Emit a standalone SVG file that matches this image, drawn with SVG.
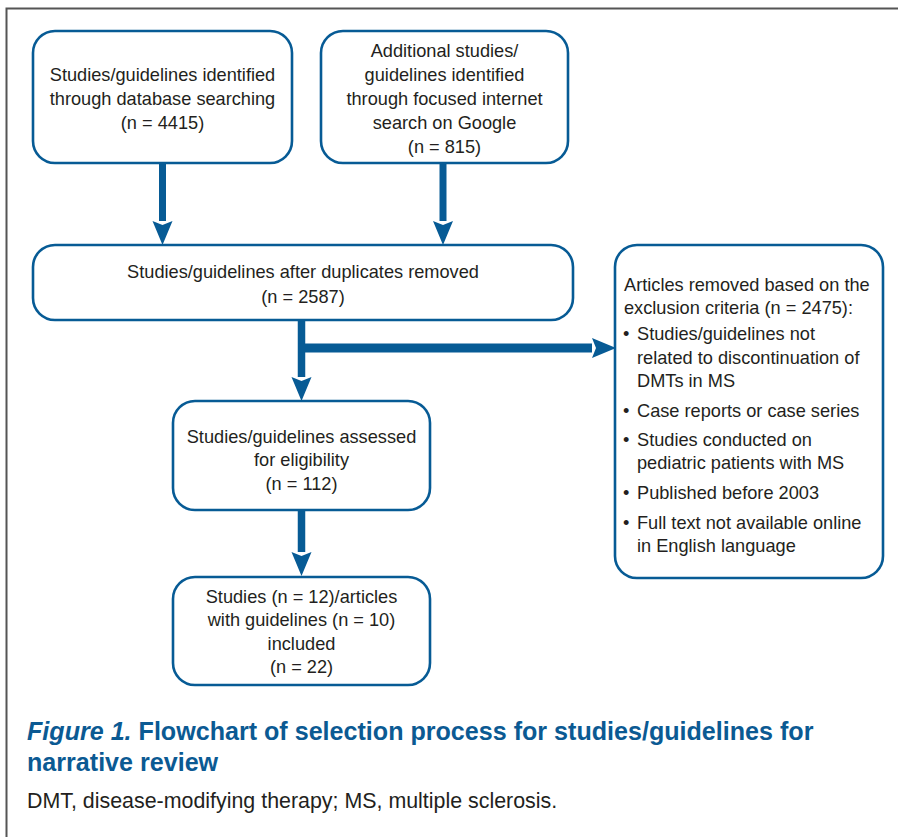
<svg xmlns="http://www.w3.org/2000/svg" width="898" height="837" viewBox="0 0 898 837">
<style>
.box{fill:#fff;stroke:#075b95;stroke-width:2.6}
.t{font-family:"Liberation Sans",Arial,sans-serif;font-size:18.2px;fill:#231f20}
.c{text-anchor:middle}
.conn{stroke:#075b95;fill:none}
.frame{stroke:#555;stroke-width:2;fill:none}
.title{font-family:"Liberation Sans",Arial,sans-serif;font-size:25.1px;font-weight:bold;fill:#0b5a93}
.cap{font-family:"Liberation Sans",Arial,sans-serif;font-size:21.4px;fill:#231f20}
</style>
<defs>
<marker id="ah" markerUnits="userSpaceOnUse" markerWidth="26" markerHeight="24" refX="0" refY="10" orient="auto" viewBox="0 0 26 20" overflow="visible">
<path d="M0,0 L24,10 L0,20 L4,10 Z" fill="#075b95"/>
</marker>
</defs>
<rect width="898" height="837" fill="#fff"/>
<path class="frame" d="M898,8.5 H6.5 V837"/>
<g id="connectors">
<line class="conn" stroke-width="7" x1="162.5" y1="163" x2="162.5" y2="221" marker-end="url(#ah)"/>
<line class="conn" stroke-width="7" x1="443" y1="163" x2="443" y2="221" marker-end="url(#ah)"/>
<line class="conn" stroke-width="7.5" x1="301.5" y1="320" x2="301.5" y2="377" marker-end="url(#ah)"/>
<line class="conn" stroke-width="9" x1="298" y1="348" x2="592" y2="348" marker-end="url(#ah)"/>
<line class="conn" stroke-width="7.5" x1="301.5" y1="510" x2="301.5" y2="552" marker-end="url(#ah)"/>
</g>
<g id="n1">
<rect class="box" x="33" y="31" width="259" height="132" rx="22"/>
<text class="t c" x="162.5" y="81">Studies/guidelines identified</text>
<text class="t c" x="162.5" y="105">through database searching</text>
<text class="t c" x="162.5" y="129">(n = 4415)</text>
</g>
<g id="n2">
<rect class="box" x="321" y="31" width="247" height="132" rx="22"/>
<text class="t c" x="444.5" y="57">Additional studies/</text>
<text class="t c" x="444.5" y="81">guidelines identified</text>
<text class="t c" x="444.5" y="105">through focused internet</text>
<text class="t c" x="444.5" y="129">search on Google</text>
<text class="t c" x="444.5" y="153">(n = 815)</text>
</g>
<g id="n3">
<rect class="box" x="33" y="245" width="540" height="75" rx="22"/>
<text class="t c" x="303" y="278">Studies/guidelines after duplicates removed</text>
<text class="t c" x="303" y="303">(n = 2587)</text>
</g>
<g id="n4">
<rect class="box" x="173" y="401" width="257" height="109" rx="22"/>
<text class="t c" x="301.5" y="443">Studies/guidelines assessed</text>
<text class="t c" x="301.5" y="466">for eligibility</text>
<text class="t c" x="301.5" y="490">(n = 112)</text>
</g>
<g id="n5">
<rect class="box" x="173" y="577" width="257" height="108" rx="22"/>
<text class="t c" x="301.5" y="603">Studies (n = 12)/articles</text>
<text class="t c" x="301.5" y="626">with guidelines (n = 10)</text>
<text class="t c" x="301.5" y="650">included</text>
<text class="t c" x="301.5" y="673">(n = 22)</text>
</g>
<g id="n6">
<rect class="box" x="615" y="245" width="268" height="333" rx="22"/>
<text class="t" x="624" y="291">Articles removed based on the</text>
<text class="t" x="624" y="314">exclusion criteria (n = 2475):</text>
<text class="t" x="623" y="340">•</text><text class="t" x="637" y="340">Studies/guidelines not</text>
<text class="t" x="637" y="364">related to discontinuation of</text>
<text class="t" x="637" y="387">DMTs in MS</text>
<text class="t" x="623" y="417">•</text><text class="t" x="637" y="417">Case reports or case series</text>
<text class="t" x="623" y="446">•</text><text class="t" x="637" y="446">Studies conducted on</text>
<text class="t" x="637" y="469">pediatric patients with MS</text>
<text class="t" x="623" y="499">•</text><text class="t" x="637" y="499">Published before 2003</text>
<text class="t" x="623" y="529">•</text><text class="t" x="637" y="529">Full text not available online</text>
<text class="t" x="637" y="552">in English language</text>
</g>
<g id="caption">
<text class="title" x="27" y="740"><tspan font-style="italic">Figure 1.</tspan> Flowchart of selection process for studies/guidelines for</text>
<text class="title" x="27" y="771">narrative review</text>
<text class="cap" x="27" y="808">DMT, disease-modifying therapy; MS, multiple sclerosis.</text>
</g>
</svg>
